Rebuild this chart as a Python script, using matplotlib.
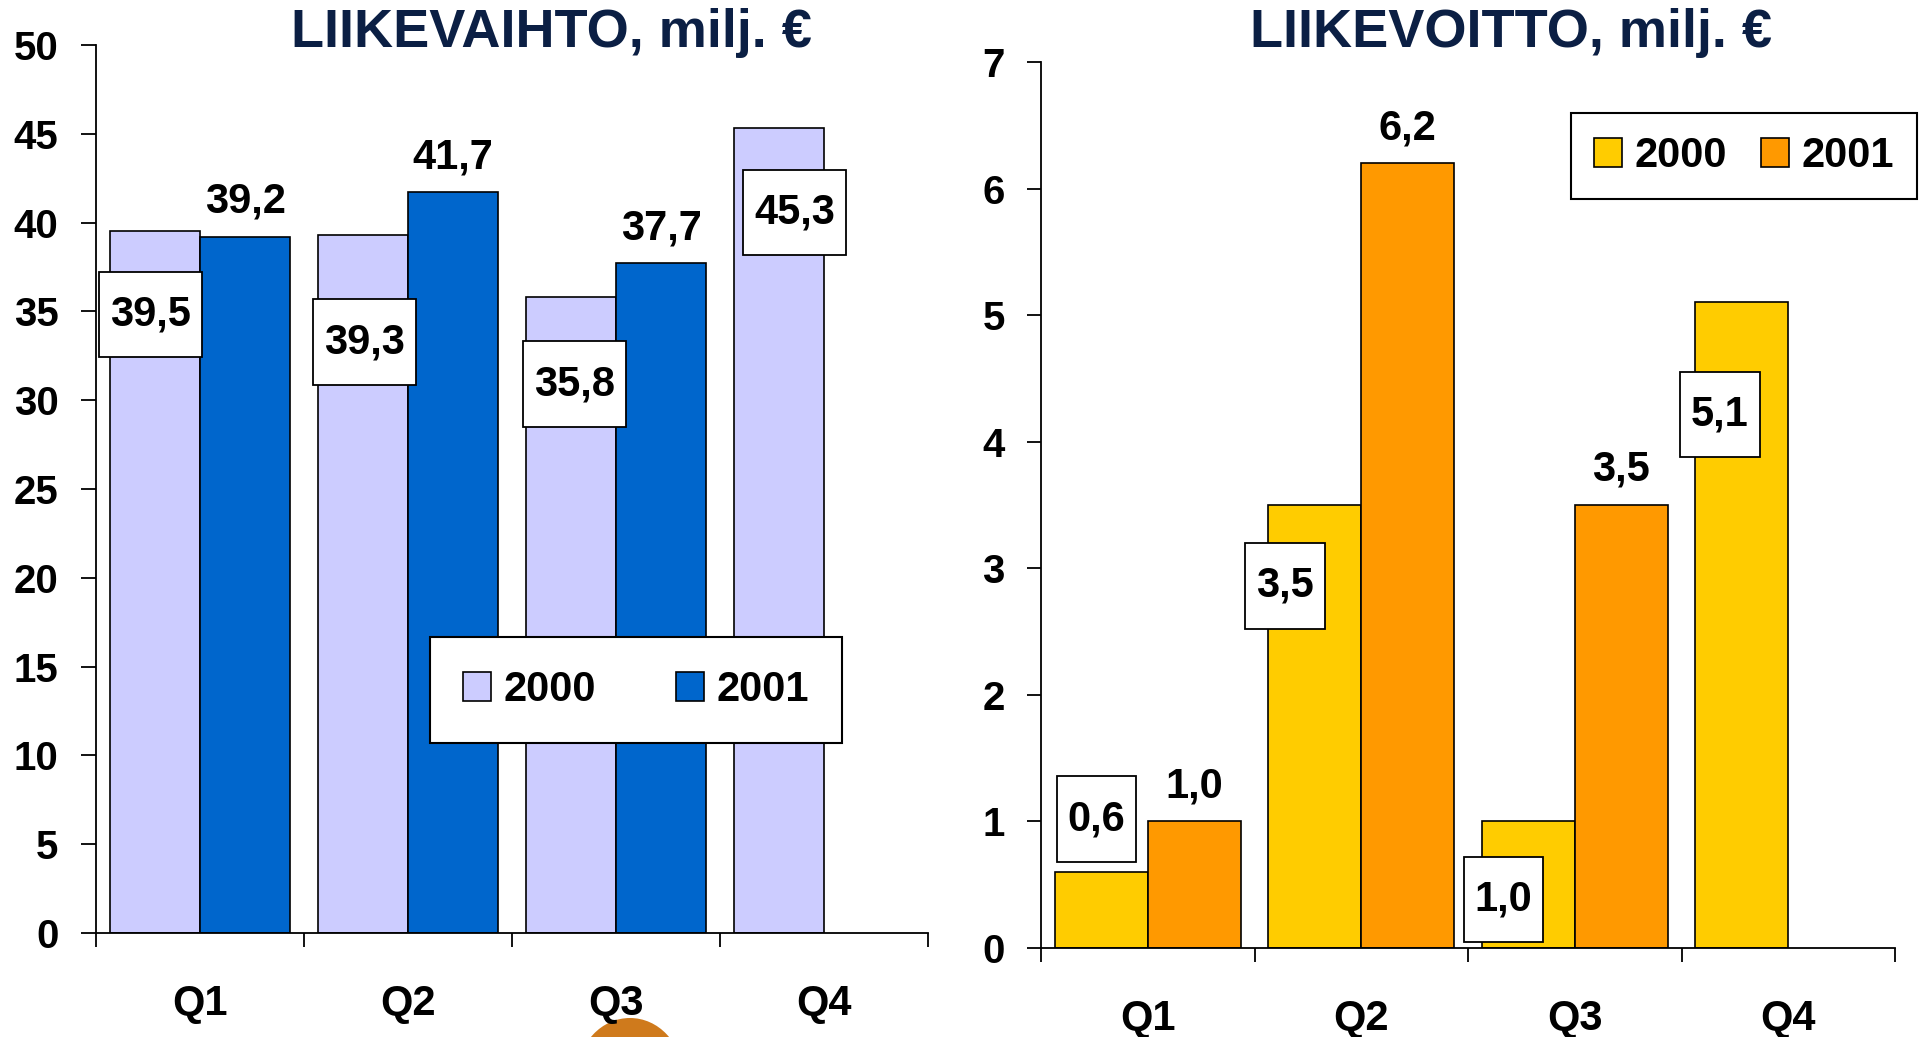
import matplotlib.pyplot as plt
import numpy as np
from matplotlib.patches import Patch, Ellipse
from matplotlib.path import Path

plt.rcParams['font.family'] = ['Liberation Sans', 'DejaVu Sans']
plt.rcParams['font.weight'] = 'bold'

# data
quarters = ['Q1', 'Q2', 'Q3', 'Q4']
years = ['2000', '2001']
sales_2000 = [39.5, 39.3, 35.8, 45.3]
sales_2001 = [39.2, 41.7, 37.7, None]
profit_2000 = [0.6, 3.5, 1.0, 5.1]
profit_2001 = [1.0, 6.2, 3.5, None]

# label box offsets (pixels) for the 2000 values, as placed in the original
sales_box_off = [(-4, -83), (2, -107), (4, -87), (16, -84)]
profit_box_off = [(-5, 53), (-30, -81), (-25, -78), (-22, -112)]

title_color = '#0b1f44'
W, H = 1919, 1037
fig = plt.figure(figsize=(W / 100, H / 100), dpi=100)
fig.patch.set_facecolor('white')


def tall_box(x0, y0, width, height, mutation_size):
    # excel style label box: narrow side padding, tall top/bottom padding
    px = 0.26 * mutation_size
    py = 0.55 * mutation_size
    x0, y0 = x0 - px, y0 - py
    x1, y1 = x0 + width + 2 * px, y0 + height + 2 * py
    return Path([(x0, y0), (x1, y0), (x1, y1), (x0, y1), (x0, y0)], closed=True)


def px_axes(x0, y0, x1, y1):
    # pixel box (top-left origin) -> axes
    return fig.add_axes([x0 / W, 1 - y1 / H, (x1 - x0) / W, (y1 - y0) / H])


def draw_panel(ax, v2000, v2001, colors, ymax, box_off, tick_len):
    x = np.arange(len(quarters))
    bw = 0.435
    ax.patch.set_alpha(0)
    for i, v in enumerate(v2000):
        ax.bar(x[i] - bw / 2, v, bw, color=colors[0], edgecolor='black', linewidth=1.2, zorder=2)
    for i, v in enumerate(v2001):
        if v is not None:
            ax.bar(x[i] + bw / 2, v, bw, color=colors[1], edgecolor='black', linewidth=1.2, zorder=2)
            ax.annotate(f'{v:.1f}'.replace('.', ','), (x[i] + bw / 2, v),
                        xytext=(0, 24), textcoords='offset pixels',
                        ha='center', va='baseline', fontsize=30, fontweight='bold', zorder=4)
    for i, v in enumerate(v2000):
        dx, dy = box_off[i]
        ax.annotate(f'{v:.1f}'.replace('.', ','), (x[i] - bw / 2, v),
                    xytext=(dx, dy), textcoords='offset pixels',
                    ha='center', va='center', fontsize=30, fontweight='bold', zorder=5,
                    bbox=dict(boxstyle=tall_box, facecolor='white',
                              edgecolor='black', linewidth=1.3))
    ax.set_xlim(-0.5, len(quarters) - 0.5)
    ax.set_ylim(0, ymax)
    for s in ['top', 'right']:
        ax.spines[s].set_visible(False)
    for s in ['left', 'bottom']:
        ax.spines[s].set_linewidth(1.3)
    ax.set_xticks(np.arange(len(quarters) + 1) - 0.5)
    ax.set_xticklabels([])
    ax.set_xticks(x, minor=True)
    ax.set_xticklabels(quarters, minor=True, fontsize=30, fontweight='bold')
    ax.tick_params(axis='x', which='major', length=10, width=1.3, direction='out')
    ax.tick_params(axis='x', which='minor', length=0, pad=37)
    ax.tick_params(axis='y', length=tick_len, width=1.3, direction='out', labelsize=29, pad=16)


# decorative ball peeking in at the bottom, behind everything
fig.patches.append(Ellipse((630 / W, 1 - 1074 / H), 104 / W, 112 / H, transform=fig.transFigure,
                           facecolor='#cf7a1c', edgecolor='none', zorder=-1))

ax1 = px_axes(96, 45, 928, 933)
draw_panel(ax1, sales_2000, sales_2001, ['#ccccff', '#0066cc'], 50, sales_box_off, 11)
ax1.set_yticks(np.arange(0, 51, 5))

ax2 = px_axes(1041, 62, 1895, 948)
draw_panel(ax2, profit_2000, profit_2001, ['#ffcc00', '#ff9900'], 7, profit_box_off, 10)
ax2.set_yticks(np.arange(0, 8, 1))

for ax in (ax1, ax2):
    for lab in ax.get_yticklabels():
        lab.set_fontweight('bold')
        lab.set_fontsize(29)

fig.text(551 / W, 1 - 47 / H, 'LIIKEVAIHTO, milj. €', ha='center', va='baseline',
         fontsize=39, fontweight='bold', color=title_color)
fig.text(1511 / W, 1 - 47 / H, 'LIIKEVOITTO, milj. €', ha='center', va='baseline',
         fontsize=39, fontweight='bold', color=title_color)

h1 = [Patch(facecolor=c, edgecolor='black', linewidth=1.2) for c in ['#ccccff', '#0066cc']]
leg1 = fig.legend(h1, years, loc='center', bbox_to_anchor=(636 / W, 1 - 690 / H),
                  bbox_transform=fig.transFigure, ncol=2, fontsize=30, frameon=True,
                  fancybox=False, framealpha=1, handlelength=0.68, handleheight=0.68,
                  handletextpad=0.3, columnspacing=1.9, borderpad=0.8, borderaxespad=0)
leg1.get_frame().set_edgecolor('black')
leg1.get_frame().set_linewidth(1.5)

h2 = [Patch(facecolor=c, edgecolor='black', linewidth=1.2) for c in ['#ffcc00', '#ff9900']]
leg2 = fig.legend(h2, years, loc='center', bbox_to_anchor=(1744 / W, 1 - 156 / H),
                  bbox_transform=fig.transFigure, ncol=2, fontsize=30, frameon=True,
                  fancybox=False, framealpha=1, handlelength=0.68, handleheight=0.68,
                  handletextpad=0.3, columnspacing=0.8, borderpad=0.55, borderaxespad=0)
leg2.get_frame().set_edgecolor('black')
leg2.get_frame().set_linewidth(1.5)
for leg in (leg1, leg2):
    for t in leg.get_texts():
        t.set_fontweight('bold')

fig.savefig('out.png', dpi=100)
